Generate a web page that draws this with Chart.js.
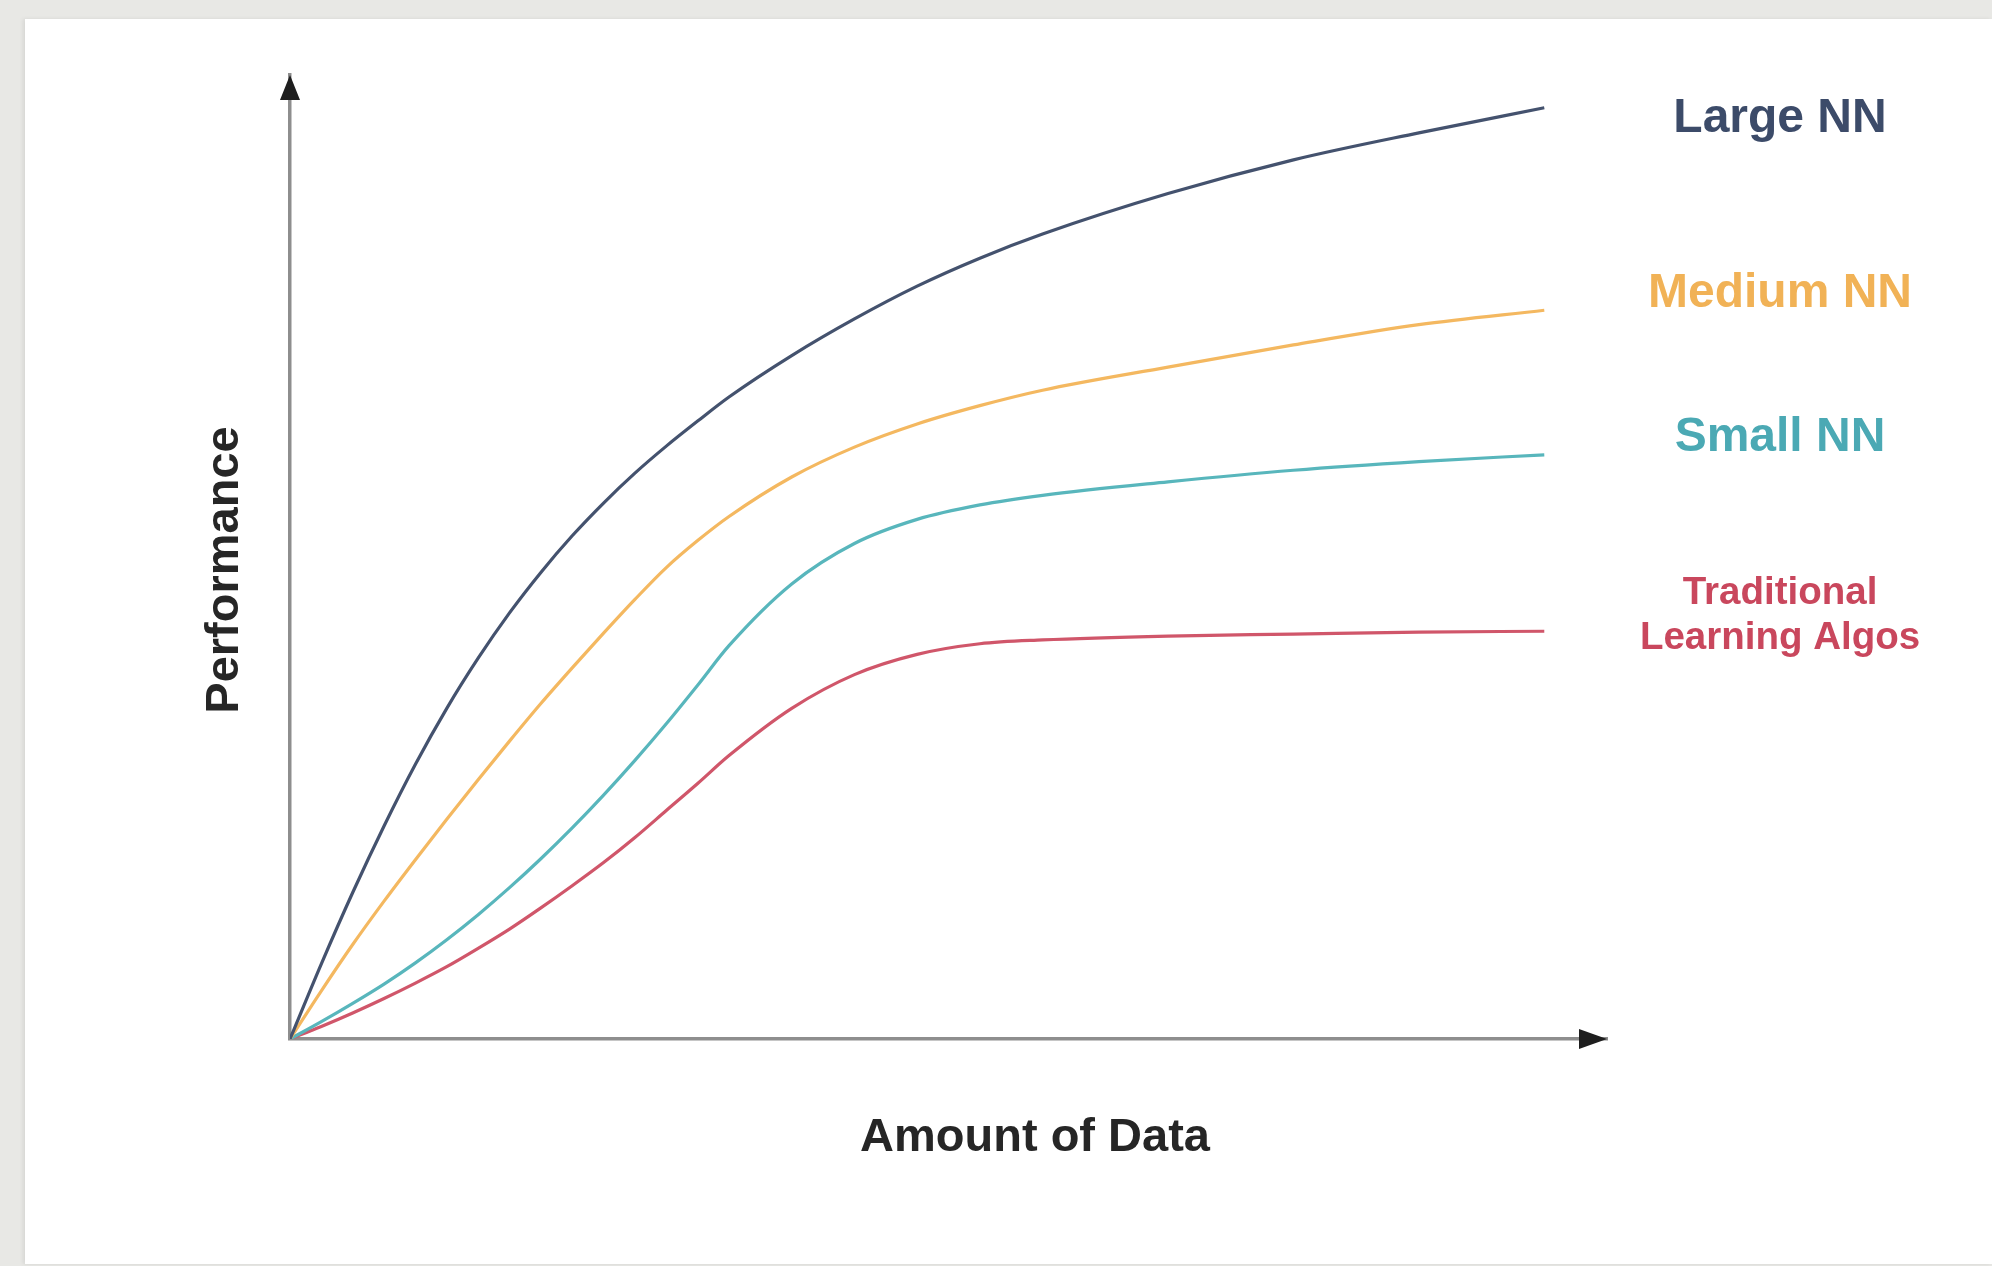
<!DOCTYPE html>
<html>
<head>
<meta charset="utf-8">
<script src="https://cdn.jsdelivr.net/npm/chart.js@4/dist/chart.umd.min.js"></script>
<style>
  html, body { margin: 0; padding: 0; width: 1992px; height: 1266px; overflow: hidden; background: #e8e8e5; }
  #panel { position: absolute; left: 25px; top: 19px; width: 1967px; height: 1245px; background: #ffffff; box-shadow: -2px 0 4px rgba(0,0,0,0.08); }
  #wrap { position: absolute; left: 0; top: 0; width: 1992px; height: 1266px; }
</style>
</head>
<body>
<div id="panel"></div>
<div id="wrap"><canvas id="c" width="1992" height="1266"></canvas></div>
<script>
// Amount of data (relative units, 0–100 = start to end of curves)
const xValues = [0, 2.5, 5, 7.5, 10, 12.5, 15, 17.5, 20, 22.5, 25, 27.5, 30, 32.5, 35, 40, 45, 50, 55, 60, 70, 80, 90, 100];
// Performance (relative units)
const largeNN = [0, 7.8, 15.2, 22.1, 28.5, 34.3, 39.5, 44.2, 48.4, 52.2, 55.6, 58.7, 61.5, 64.1, 66.6, 70.9, 74.7, 78.1, 81.0, 83.5, 87.7, 91.2, 94.0, 96.6];
const mediumNN = [0, 5.0, 9.8, 14.3, 18.6, 22.8, 26.9, 30.9, 34.8, 38.5, 42.1, 45.6, 48.9, 51.7, 54.2, 58.3, 61.4, 63.8, 65.7, 67.3, 69.7, 72.0, 74.1, 75.6];
const smallNN = [0, 1.8, 3.7, 5.7, 7.9, 10.3, 12.9, 15.7, 18.7, 21.9, 25.3, 28.9, 32.7, 36.7, 40.8, 47.2, 51.4, 53.9, 55.4, 56.4, 57.8, 59.0, 59.9, 60.6];
const traditional = [0, 1.3, 2.7, 4.2, 5.8, 7.5, 9.4, 11.4, 13.6, 15.9, 18.3, 20.9, 23.7, 26.5, 29.4, 34.3, 37.8, 39.9, 41.0, 41.4, 41.8, 42.0, 42.2, 42.3];

const seriesNames = ['Large NN', 'Medium NN', 'Small NN', 'Traditional Learning Algos'];
const xAxisTitle = 'Amount of Data';
const yAxisTitle = 'Performance';

const lineColors = ['#44526e', '#f4b860', '#58b6bc', '#d0566a'];
const labelColors = ['#3c4b69', '#f1b256', '#4ba9b4', '#c9475d'];

function pts(ys) { return xValues.map((x, i) => ({ x: x, y: ys[i] })); }

const decor = {
  id: 'decor',
  afterDraw(chart) {
    const ctx = chart.ctx;
    const a = chart.chartArea;
    ctx.save();
    // arrowheads
    ctx.fillStyle = '#1e1e1e';
    ctx.beginPath();
    ctx.moveTo(a.left, a.top);
    ctx.lineTo(a.left - 10, a.top + 25);
    ctx.lineTo(a.left + 10, a.top + 25);
    ctx.closePath();
    ctx.fill();
    ctx.beginPath();
    ctx.moveTo(a.right, a.bottom);
    ctx.lineTo(a.right - 28, a.bottom - 10);
    ctx.lineTo(a.right - 28, a.bottom + 10);
    ctx.closePath();
    ctx.fill();

    // axis titles
    ctx.fillStyle = '#262626';
    ctx.font = 'bold 47px "Liberation Sans", Arial, sans-serif';
    ctx.textAlign = 'center';
    ctx.textBaseline = 'middle';
    ctx.fillText(xAxisTitle, 1035, 1138);
    ctx.save();
    ctx.translate(225, 570);
    ctx.rotate(-Math.PI / 2);
    ctx.fillText(yAxisTitle, 0, 0);
    ctx.restore();

    // series labels on the right
    ctx.font = 'bold 48px "Liberation Sans", Arial, sans-serif';
    ctx.fillStyle = labelColors[0];
    ctx.fillText(seriesNames[0], 1780, 119);
    ctx.fillStyle = labelColors[1];
    ctx.fillText(seriesNames[1], 1780, 294);
    ctx.fillStyle = labelColors[2];
    ctx.fillText(seriesNames[2], 1780, 438);
    ctx.font = 'bold 38.5px "Liberation Sans", Arial, sans-serif';
    ctx.fillStyle = labelColors[3];
    ctx.fillText('Traditional', 1780, 593);
    ctx.fillText('Learning Algos', 1780, 638);
    ctx.restore();
  }
};

const mk = (i, ys) => ({
  label: seriesNames[i],
  data: pts(ys),
  borderColor: lineColors[i],
  borderWidth: 3.2,
  pointRadius: 0,
  fill: false,
  cubicInterpolationMode: 'monotone'
});

new Chart(document.getElementById('c'), {
  type: 'line',
  data: {
    datasets: [mk(0, largeNN), mk(1, mediumNN), mk(2, smallNN), mk(3, traditional)]
  },
  options: {
    responsive: false,
    animation: false,
    events: [],
    layout: { padding: { left: 290, top: 75, right: 385, bottom: 227 } },
    plugins: { legend: { display: false }, tooltip: { enabled: false }, title: { display: false } },
    scales: {
      x: {
        type: 'linear', min: 0, max: 105,
        ticks: { display: false },
        grid: { display: false, drawTicks: false },
        border: { display: true, color: '#8e8e8e', width: 3.5 },
        afterFit: s => { s.height = 0; }
      },
      y: {
        type: 'linear', min: 0, max: 100,
        ticks: { display: false },
        grid: { display: false, drawTicks: false },
        border: { display: true, color: '#8e8e8e', width: 3.5 },
        afterFit: s => { s.width = 0; }
      }
    }
  },
  plugins: [decor]
});
</script>
</body>
</html>
